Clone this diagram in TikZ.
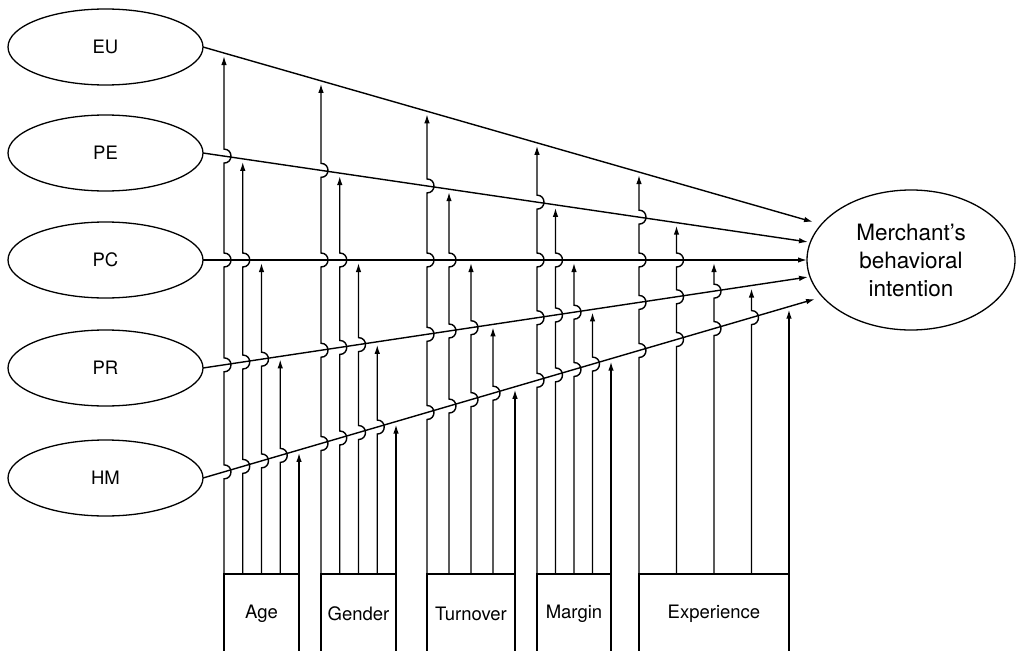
\documentclass[tikz,border=0pt]{standalone}
\usepackage{fontspec}
\setmainfont{TeX Gyre Heros}
\usetikzlibrary{arrows.meta,shapes.geometric,calc}

\tikzset{
  lat/.style={ellipse, draw, line width=1.3pt, minimum width=195pt, minimum height=76pt,
    inner sep=0pt, outer sep=0pt, font=\fontsize{18.5}{22}\selectfont},
  outc/.style={ellipse, draw, line width=1.3pt, minimum width=208pt, minimum height=140pt,
    inner sep=0pt, outer sep=0pt, align=center, font=\fontsize{22.5}{28}\selectfont},
  modbox/.style={rectangle, draw, line width=1.3pt, minimum height=80pt,
    inner sep=0pt, outer sep=0pt, font=\fontsize{18.5}{22}\selectfont},
  mainarrow/.style={line width=1.4pt, -{Latex[length=9pt,width=5.5pt]}},
  modarrow/.style={line width=1.4pt, -{Latex[length=9pt,width=5.5pt]}},
}

% path lines (EU, PE, PC, PR, HM): y = y0 + (x-203)*slope
\newcommand\jumpline[5]{% #1 box node, #2 x, #3 target y0, #4 target slope, #5 crossed lines y0/slope (bottom-up)
  \gdef\jpath{}%
  \foreach \yz/\sl in {#5}{%
    \pgfmathsetmacro\yc{\yz+(#2-203)*(\sl)}%
    \pgfmathsetmacro\ya{\yc+7}%
    \pgfmathsetmacro\yb{\yc-7}%
    \pgfmathsetmacro\cx{#2+9.3}%
    \xdef\jpath{\jpath -- (#2,\ya) .. controls (\cx,\ya) and (\cx,\yb) .. (#2,\yb)}%
  }%
  \pgfmathsetmacro\yt{#3+(#2-203)*(#4)+3}%
  \draw[modarrow] (#2,0 |- #1.north) \jpath -- (#2,\yt);
}

\newcommand\moderator[4]{% #1 name, #2 left x, #3 right x, #4 label
  \pgfmathsetmacro\bw{#3-#2}%
  \pgfmathsetmacro\bc{(#2+#3)/2}%
  \node[modbox, minimum width=\bw pt] (#1) at (\bc,614) {#4};
  \pgfmathsetmacro\xA{#2}\jumpline{#1}{\xA}{47}{0.286885}{478/-0.292484,368/-0.150413,260/0,153/0.147107}%
  \pgfmathsetmacro\xB{#2+0.25*\bw}\jumpline{#1}{\xB}{153}{0.147107}{478/-0.292484,368/-0.150413,260/0}%
  \pgfmathsetmacro\xC{#2+0.5*\bw}\jumpline{#1}{\xC}{260}{0}{478/-0.292484,368/-0.150413}%
  \pgfmathsetmacro\xD{#2+0.75*\bw}\jumpline{#1}{\xD}{368}{-0.150413}{478/-0.292484}%
  \pgfmathsetmacro\xE{#3}%
  \pgfmathsetmacro\yE{478+(\xE-203)*(-0.292484)+3}%
  \draw[modarrow] (\xE,0 |- #1.north) -- (\xE,\yE);
}

\begin{document}
\begin{tikzpicture}[x=1pt, y=-1pt]
\useasboundingbox (0,0) rectangle (1016,650);
\clip (0,0) rectangle (1016,650);

\node[lat] (EU) at (105.5,47) {EU};
\node[lat] (PE) at (105.5,153) {PE};
\node[lat] (PC) at (105.5,260) {PC};
\node[lat] (PR) at (105.5,368) {PR};
\node[lat] (HM) at (105.5,478) {HM};

\node[outc] (MBI) at (911,260) {Merchant’s\\behavioral\\intention};

\coordinate (tEU) at (813,222);
\coordinate (tPE) at (808,242);
\coordinate (tPC) at (807,260);
\coordinate (tPR) at (808,277);
\coordinate (tHM) at (815,299);

\draw[mainarrow] (EU.east) -- (tEU);
\draw[mainarrow] (PE.east) -- (tPE);
\draw[mainarrow] (PC.east) -- (tPC);
\draw[mainarrow] (PR.east) -- (tPR);
\draw[mainarrow] (HM.east) -- (tHM);

\moderator{age}{224}{299}{Age}
\moderator{gender}{321}{396}{Gender}
\moderator{turnover}{427}{515}{Turnover}
\moderator{margin}{537}{611}{Margin}
\moderator{experience}{639}{789}{Experience}

\end{tikzpicture}
\end{document}
